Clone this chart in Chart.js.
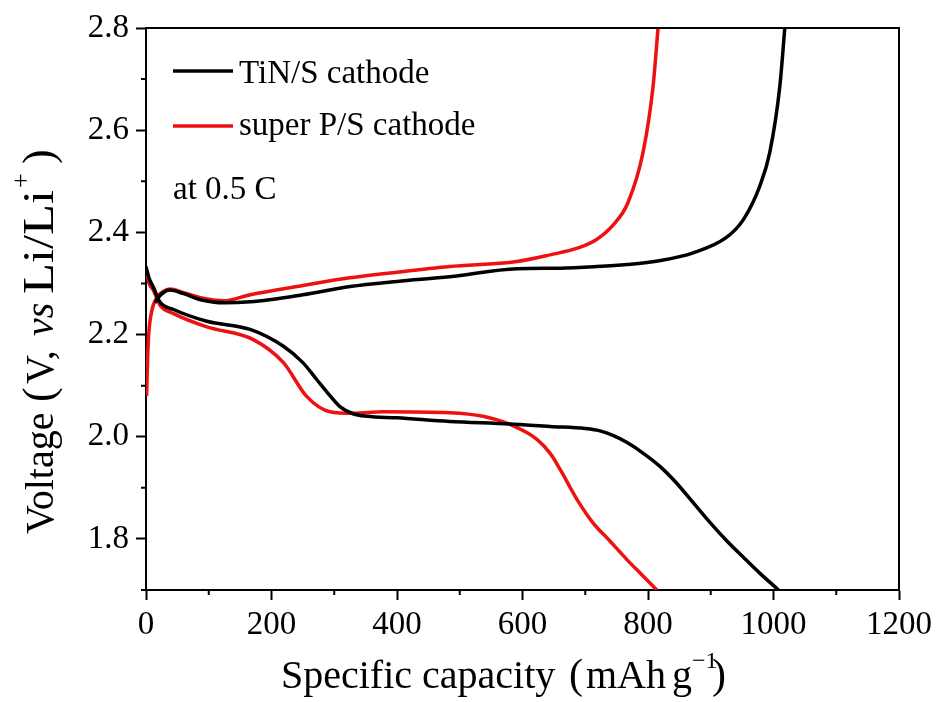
<!DOCTYPE html>
<html>
<head>
<meta charset="utf-8">
<script src="https://cdn.jsdelivr.net/npm/chart.js@4.4.1/dist/chart.umd.min.js"></script>
<style>
  html, body { margin: 0; padding: 0; background: #fff; }
  #wrap { width: 938px; height: 702px; }
</style>
</head>
<body>
<div id="wrap"><canvas id="chart" width="938" height="702"></canvas></div>
<script>
// TiN/S cathode (black)
const tinDisX = [0, 5, 12, 22, 44, 97, 166, 219, 250, 272, 290, 309, 330, 352, 400, 484, 580, 644, 700, 725, 745, 766, 792, 819, 845, 872, 899, 925, 952, 978, 1008];
const tinDisY = [2.333, 2.31, 2.292, 2.264, 2.249, 2.226, 2.210, 2.177, 2.145, 2.112, 2.085, 2.059, 2.045, 2.040, 2.037, 2.030, 2.025, 2.020, 2.016, 2.011, 2.002, 1.989, 1.968, 1.942, 1.910, 1.871, 1.832, 1.797, 1.764, 1.733, 1.700];
const tinChgX = [14, 22, 30, 38, 60, 87, 124, 166, 250, 325, 400, 484, 591, 660, 718, 766, 820, 872, 925, 952, 978, 994, 1010, 1018];
const tinChgY = [2.262, 2.276, 2.284, 2.287, 2.280, 2.268, 2.262, 2.264, 2.278, 2.294, 2.304, 2.313, 2.329, 2.330, 2.333, 2.337, 2.345, 2.36, 2.39, 2.425, 2.49, 2.556, 2.685, 2.8];

// super P/S cathode (red)
const spDisX = [0, 5, 12, 22, 44, 97, 171, 219, 256, 293, 330, 378, 484, 537, 580, 623, 645, 660, 687, 712, 740, 766, 790, 814];
const spDisY = [2.327, 2.30, 2.286, 2.258, 2.241, 2.215, 2.190, 2.145, 2.079, 2.049, 2.046, 2.049, 2.047, 2.040, 2.024, 1.995, 1.966, 1.936, 1.877, 1.832, 1.795, 1.760, 1.730, 1.700];
const spChgX = [1, 2, 4, 9, 17, 27, 38, 60, 87, 124, 166, 250, 325, 400, 484, 591, 644, 690, 718, 745, 768, 792, 808, 816];
const spChgY = [2.08, 2.13, 2.194, 2.245, 2.272, 2.284, 2.289, 2.282, 2.272, 2.266, 2.278, 2.296, 2.311, 2.322, 2.333, 2.343, 2.356, 2.37, 2.386, 2.415, 2.458, 2.556, 2.685, 2.8];

const yTicks = [1.8, 2.0, 2.2, 2.4, 2.6, 2.8];
const yMinorTicks = [1.7, 1.9, 2.1, 2.3, 2.5, 2.7];
const xMinorTicks = [100, 300, 500, 700, 900, 1100];

const FONT = "'Liberation Serif', 'DejaVu Serif', serif";

function pts(xs, ys) {
    return xs.map((x, i) => ({ x: x, y: ys[i] }));
}

function curve(label, xs, ys, color) {
    return {
        label: label,
        data: pts(xs, ys),
        borderColor: color,
        backgroundColor: color,
        borderWidth: 3.5,
        pointRadius: 0,
        cubicInterpolationMode: 'monotone',
        showLine: true,
        fill: false
    };
}

// text pieces placed along the reading direction (optional stretch via sx)
function drawPieces(ctx, pieces, base, rotated) {
    pieces.forEach(p => {
        ctx.save();
        ctx.font = p.f;
        if (rotated) {
            ctx.translate(base + (p.dy || 0), p.s);
            ctx.rotate(-Math.PI / 2);
        } else {
            ctx.translate(p.s, base + (p.dy || 0));
        }
        ctx.scale(p.sx || 1, 1);
        ctx.fillText(p.t, 0, 0);
        ctx.restore();
    });
}

// frame, minor ticks, legend and titles
const decorations = {
    id: 'decorations',
    afterDraw(chart) {
        const ctx = chart.ctx;
        const a = chart.chartArea;
        const xs = chart.scales.x;
        const ys = chart.scales.y;
        ctx.save();

        // top and right frame
        ctx.strokeStyle = '#000';
        ctx.lineWidth = 2;
        ctx.beginPath();
        ctx.moveTo(a.left, a.top);
        ctx.lineTo(a.right, a.top);
        ctx.lineTo(a.right, a.bottom);
        ctx.stroke();

        // minor ticks
        ctx.beginPath();
        xMinorTicks.forEach(v => {
            const p = xs.getPixelForValue(v);
            ctx.moveTo(p, a.bottom);
            ctx.lineTo(p, a.bottom + 5);
        });
        yMinorTicks.forEach(v => {
            const p = ys.getPixelForValue(v);
            ctx.moveTo(a.left, p);
            ctx.lineTo(a.left - 5, p);
        });
        ctx.stroke();

        // legend
        ctx.fillStyle = '#000';
        ctx.font = '33px ' + FONT;
        ctx.textBaseline = 'alphabetic';
        ctx.textAlign = 'left';
        const leg = [
            { label: chart.data.datasets[0].label, color: '#000', y: 71, base: 83 },
            { label: chart.data.datasets[2].label, color: '#ee1111', y: 126, base: 135 }
        ];
        leg.forEach(l => {
            ctx.strokeStyle = l.color;
            ctx.lineWidth = 3.5;
            ctx.beginPath();
            ctx.moveTo(173, l.y);
            ctx.lineTo(233, l.y);
            ctx.stroke();
            ctx.fillText(l.label, 239, l.base);
        });
        ctx.fillText('at 0.5 C', 173, 199);

        // x title
        const xf = '40px ' + FONT;
        const xPieces = [
            { t: 'Specific capacity', f: xf, s: 281 },
            { t: '(', f: '42px ' + FONT, s: 569 },
            { t: 'mAh', f: xf, s: 586 },
            { t: 'g', f: xf, s: 672 },
            { t: '\u22121', f: '24px ' + FONT, s: 692, dy: -20 },
            { t: ')', f: '42px ' + FONT, s: 712 }
        ];
        drawPieces(ctx, xPieces, 688, false);

        // y title (rotated, reads upward)
        const yf = '40px ' + FONT;
        const yPieces = [
            { t: 'Voltage', f: yf, s: 534 },
            { t: '(', f: '44px ' + FONT, s: 402 },
            { t: 'V,', f: yf, s: 384 },
            { t: 'vs', f: 'italic ' + yf, s: 336 },
            { t: 'Li/Li', f: '44px ' + FONT, s: 294, sx: 1.15 },
            { t: '+', f: '26px ' + FONT, s: 188, dy: -24 },
            { t: ')', f: '44px ' + FONT, s: 164 }
        ];
        drawPieces(ctx, yPieces, 53, true);

        ctx.restore();
    }
};

const ctx = document.getElementById('chart');
new Chart(ctx, {
    type: 'scatter',
    data: {
        datasets: [
            curve('TiN/S cathode', tinDisX, tinDisY, '#000000'),
            curve('TiN/S cathode', tinChgX, tinChgY, '#000000'),
            curve('super P/S cathode', spDisX, spDisY, '#ee1111'),
            curve('super P/S cathode', spChgX, spChgY, '#ee1111')
        ]
    },
    options: {
        responsive: false,
        animation: false,
        layout: { padding: { left: 0, top: 28, right: 36, bottom: 0 } },
        plugins: {
            legend: { display: false },
            tooltip: { enabled: false }
        },
        scales: {
            x: {
                type: 'linear',
                min: 0,
                max: 1200,
                afterFit: s => { s.height = 112; },
                border: { display: true, color: '#000', width: 2 },
                grid: { display: true, drawOnChartArea: false, color: '#000', tickLength: 10, tickWidth: 2 },
                ticks: {
                    stepSize: 200, color: '#000', padding: 6, font: { family: FONT, size: 33 },
                    callback: v => String(v)
                }
            },
            y: {
                type: 'linear',
                min: 1.7,
                max: 2.8,
                afterFit: s => { s.width = 146; },
                afterBuildTicks: s => { s.ticks = yTicks.map(v => ({ value: v })); },
                border: { display: true, color: '#000', width: 2 },
                grid: { display: true, drawOnChartArea: false, color: '#000', tickLength: 10, tickWidth: 2 },
                ticks: {
                    color: '#000', padding: 7, font: { family: FONT, size: 33 },
                    callback: v => Number(v).toFixed(1)
                }
            }
        }
    },
    plugins: [decorations]
});
</script>
</body>
</html>
